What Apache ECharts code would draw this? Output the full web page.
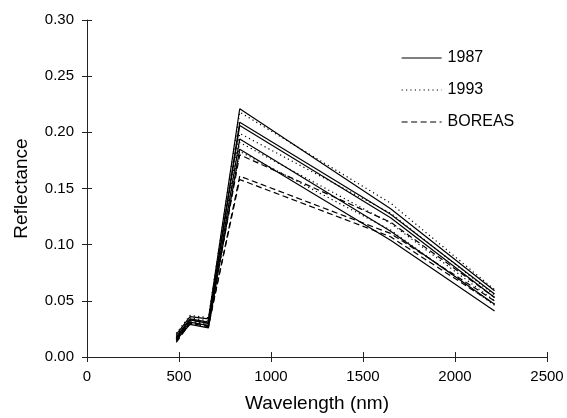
<!DOCTYPE html>
<html>
<head>
<meta charset="utf-8">
<script src="https://cdn.jsdelivr.net/npm/echarts@6/dist/echarts.min.js"></script>
<style>html,body{margin:0;padding:0;background:#fff}#c{width:567px;height:418px}</style>
</head>
<body>
<div id="c"></div>
<script>
// Landsat TM band centres (nm)
const wavelengths = [485, 560, 660, 830, 1650, 2215];
const xTicks = [0, 500, 1000, 1500, 2000, 2500];
const yTicks = [0.00, 0.05, 0.10, 0.15, 0.20, 0.25, 0.30];

// 1987 (solid)
const s1987a = [0.020, 0.036, 0.034, 0.221, 0.132, 0.059];
const s1987b = [0.018, 0.034, 0.031, 0.209, 0.127, 0.056];
const s1987c = [0.017, 0.033, 0.030, 0.206, 0.124, 0.053];
const s1987d = [0.016, 0.031, 0.028, 0.194, 0.112, 0.047];
const s1987e = [0.015, 0.029, 0.026, 0.185, 0.104, 0.041];
// 1993 (dotted)
const s1993a = [0.021, 0.037, 0.035, 0.218, 0.137, 0.060];
const s1993b = [0.019, 0.035, 0.032, 0.199, 0.128, 0.055];
const s1993c = [0.017, 0.032, 0.029, 0.191, 0.119, 0.050];
const s1993d = [0.016, 0.030, 0.027, 0.183, 0.113, 0.046];
// BOREAS (dashed)
const sBorA = [0.013, 0.030, 0.027, 0.161, 0.110, 0.050];
const sBorB = [0.014, 0.031, 0.028, 0.158, 0.107, 0.047];
const sBorC = [0.016, 0.033, 0.030, 0.180, 0.120, 0.053];

const groups = [
  {name: 'BOREAS', type: [6, 3.5], lines: [sBorA, sBorB, sBorC]},
  {name: '1993', type: [1.2, 3.2], lines: [s1993a, s1993b, s1993c, s1993d]},
  {name: '1987', type: 'solid', lines: [s1987a, s1987b, s1987c, s1987d, s1987e]}
];

const series = [];
groups.forEach(g => {
  g.lines.forEach(vals => {
    series.push({
      type: 'line', name: g.name, xAxisIndex: 0, yAxisIndex: 0,
      data: wavelengths.map((w, i) => [w, vals[i]]),
      symbol: 'none', silent: true,
      lineStyle: {color: '#000', width: 1.2, type: g.type},
      itemStyle: {color: '#000'}
    });
  });
});

const font = 'Liberation Sans, Arial, Helvetica, sans-serif';
const axisLineStyle = {color: '#222', width: 1};

const chart = echarts.init(document.getElementById('c'), null, {renderer: 'canvas'});
chart.setOption({
  animation: false,
  backgroundColor: '#fff',
  grid: {left: 87, right: 20, top: 20, bottom: 59, containLabel: false},
  legend: {
    data: ['1987', '1993', 'BOREAS'],
    orient: 'vertical', left: 396, top: 45,
    itemWidth: 40, itemHeight: 14, itemGap: 16,
    selectedMode: false,
    itemStyle: {opacity: 0},
    lineStyle: {opacity: 1, width: 1.2},
    textStyle: {fontFamily: font, fontSize: 16, color: '#000', padding: [0, 0, 0, 1]}
  },
  xAxis: [
    {
      type: 'value', position: 'bottom', min: 0, max: 2500, interval: 500,
      name: 'Wavelength (nm)', nameLocation: 'middle', nameGap: 37,
      nameTextStyle: {fontFamily: font, fontSize: 19, color: '#000'},
      axisLine: {show: true, lineStyle: axisLineStyle},
      axisTick: {show: true, inside: false, length: 5, lineStyle: axisLineStyle},
      axisLabel: {fontFamily: font, fontSize: 15, color: '#000', margin: 12,
        formatter: v => xTicks.includes(v) ? String(v) : ''},
      splitLine: {show: false}
    },
    {
      type: 'value', position: 'bottom', min: 0, max: 2500, interval: 500,
      axisLine: {show: false}, axisLabel: {show: false},
      axisTick: {show: true, inside: true, length: 5, lineStyle: axisLineStyle},
      splitLine: {show: false}
    }
  ],
  yAxis: [
    {
      type: 'value', position: 'left', min: 0, max: 0.30, interval: 0.05,
      name: 'Reflectance', nameLocation: 'middle', nameGap: 56,
      nameTextStyle: {fontFamily: font, fontSize: 19, color: '#000'},
      axisLine: {show: true, lineStyle: axisLineStyle},
      axisTick: {show: true, inside: false, length: 5, lineStyle: axisLineStyle},
      axisLabel: {fontFamily: font, fontSize: 15, color: '#000', margin: 13,
        formatter: v => v.toFixed(2)},
      splitLine: {show: false}
    },
    {
      type: 'value', position: 'left', min: 0, max: 0.30, interval: 0.05,
      axisLine: {show: false}, axisLabel: {show: false},
      axisTick: {show: true, inside: true, length: 5, lineStyle: axisLineStyle},
      splitLine: {show: false}
    }
  ],
  series: series
});
</script>
</body>
</html>
